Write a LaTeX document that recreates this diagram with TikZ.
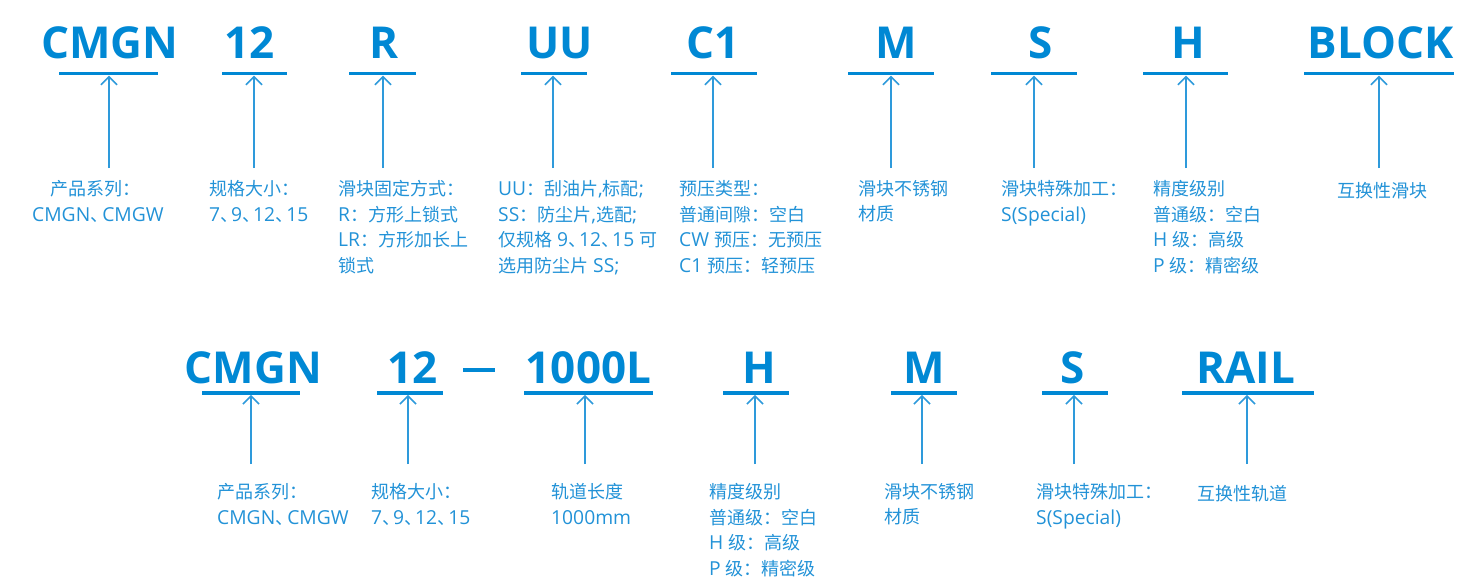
\documentclass[tikz,border=0pt]{standalone}
\usepackage{fontspec}
\setmainfont{Open Sans}
\newfontfamily\zhfont{Noto Sans CJK SC}
\newfontfamily\labfont{Open Sans}[Scale=1.07]
\newcommand\zh[1]{{\zhfont #1}}
\newcommand\lstrut{\rule{0pt}{17pt}}
\usetikzlibrary{arrows.meta}
\definecolor{codeblue}{HTML}{0088D4}
\definecolor{labblue}{HTML}{2292D7}
\definecolor{arrblue}{HTML}{2E9ADB}
\tikzset{
  code/.style={anchor=base, inner sep=0pt, text=codeblue, font=\fontsize{44}{44}\selectfont\bfseries},
  uline/.style={fill=codeblue, inner sep=0pt, minimum height=3.5pt, draw=none, rectangle},
  lab/.style={anchor=north west, inner sep=0pt, align=left, text=labblue,
    font=\fontsize{18}{25.7}\selectfont\labfont, execute at begin node=\lstrut},
  arr/.style={draw=arrblue, line width=1.8pt, -{Straight Barb[length=8pt,width=16pt,line width=1.6pt]}},
  dashbar/.style={draw=codeblue, line width=3.5pt},
}
\begin{document}
\begin{tikzpicture}[x=1pt,y=-1pt]
\useasboundingbox (0,0) rectangle (1483,583);
% ---------- top row ----------
\node[code] (c1) at (110,59) {CMGN};
\node[code] (c2) at (249.5,59) {12};
\node[code] (c3) at (384,59) {R};
\node[code] (c4) at (559.5,59) {UU};
\node[code] (c5) at (713.5,59) {C1};
\node[code] (c6) at (896,59) {M};
\node[code] (c7) at (1040.5,59) {S};
\node[code] (c8) at (1188.5,59) {H};
\node[code] (c9) at (1380.5,59) {BLOCK};
\node[uline, minimum width=99pt] (u1) at (108.5,73.7) {};
\node[uline, minimum width=65pt] (u2) at (254.5,73.7) {};
\node[uline, minimum width=67pt] (u3) at (382.5,73.7) {};
\node[uline, minimum width=66pt] (u4) at (554,73.7) {};
\node[uline, minimum width=86pt] (u5) at (714,73.7) {};
\node[uline, minimum width=86pt] (u6) at (891,73.7) {};
\node[uline, minimum width=86pt] (u7) at (1034,73.7) {};
\node[uline, minimum width=85pt] (u8) at (1185.5,73.7) {};
\node[uline, minimum width=150pt] (u9) at (1379,73.7) {};
\coordinate (p1) at (109,168);
\coordinate (p2) at (254,168);
\coordinate (p3) at (383,168);
\coordinate (p4) at (553,168);
\coordinate (p5) at (713,168);
\coordinate (p6) at (891,168);
\coordinate (p7) at (1034,168);
\coordinate (p8) at (1186,168);
\coordinate (p9) at (1379,168);
\foreach \i in {1,...,9} {\draw[arr] (p\i) -- (p\i |- u\i.south);}
\node[lab] (l1) at (32,180) {\hspace*{18pt}\zh{产品系列：}\\CMGN\zh{、}\kern-6pt CMGW};
\node[lab] (l2) at (209,180) {\zh{规格大小：}\\7\zh{、}\kern-7pt 9\zh{、}\kern-7pt 12\zh{、}\kern-7pt 15};
\node[lab] (l3) at (338,180) {\zh{滑块固定方式：}\\R\zh{：方形上锁式}\\LR\zh{：方形加长上}\\\zh{锁式}};
\node[lab] (l4) at (498,180) {UU\zh{：刮油片},\zh{标配};\\SS\zh{：防尘片},\zh{选配};\\\zh{仅规格} 9\zh{、}\kern-7pt 12\zh{、}\kern-7pt 15 \zh{可}\\\zh{选用防尘片} SS;};
\node[lab] (l5) at (679,180) {\zh{预压类型：}\\\zh{普通间隙：空白}\\CW \zh{预压：无预压}\\C1 \zh{预压：轻预压}};
\node[lab] (l6) at (858,180) {\zh{滑块不锈钢}\\\zh{材质}};
\node[lab] (l7) at (1001,180) {\zh{滑块特殊加工：}\\S(Special)};
\node[lab] (l8) at (1153,180) {\zh{精度级别}\\\zh{普通级：空白}\\H \zh{级：高级}\\P \zh{级：精密级}};
\node[lab] (l9) at (1337,180) {\zh{互换性滑块}};
% ---------- bottom row ----------
\node[code] (d1) at (253.5,383) {CMGN};
\node[code] (d2) at (412.5,383) {12};
\node[code] (d3) at (588.5,383) {1000L};
\node[code] (d4) at (759,383) {H};
\node[code] (d5) at (924.5,383) {M};
\node[code] (d6) at (1072.5,383) {S};
\node[code] (d7) at (1245.5,383) {RAIL};
\coordinate (m1) at (463,370);
\coordinate (m2) at (495,370);
\draw[dashbar] (m1) -- (m2);
\node[uline, minimum width=98pt] (v1) at (251,393) {};
\node[uline, minimum width=66pt] (v2) at (410,393) {};
\node[uline, minimum width=129pt] (v3) at (588.5,393) {};
\node[uline, minimum width=66pt] (v4) at (756,393) {};
\node[uline, minimum width=66pt] (v5) at (923.5,393) {};
\node[uline, minimum width=66pt] (v6) at (1075,393) {};
\node[uline, minimum width=132pt] (v7) at (1248,393) {};
\coordinate (q1) at (251,464);
\coordinate (q2) at (408,464);
\coordinate (q3) at (585,464);
\coordinate (q4) at (755,464);
\coordinate (q5) at (922,464);
\coordinate (q6) at (1074,464);
\coordinate (q7) at (1247,464);
\foreach \i in {1,...,7} {\draw[arr] (q\i) -- (q\i |- v\i.south);}
\node[lab] (k1) at (217,483) {\zh{产品系列：}\\CMGN\zh{、}\kern-6pt CMGW};
\node[lab] (k2) at (371,483) {\zh{规格大小：}\\7\zh{、}\kern-7pt 9\zh{、}\kern-7pt 12\zh{、}\kern-7pt 15};
\node[lab] (k3) at (551,483) {\zh{轨道长度}\\1000mm};
\node[lab] (k4) at (709,483) {\zh{精度级别}\\\zh{普通级：空白}\\H \zh{级：高级}\\P \zh{级：精密级}};
\node[lab] (k5) at (884,483) {\zh{滑块不锈钢}\\\zh{材质}};
\node[lab] (k6) at (1036,483) {\zh{滑块特殊加工：}\\S(Special)};
\node[lab] (k7) at (1197,483) {\zh{互换性轨道}};
\end{tikzpicture}
\end{document}
